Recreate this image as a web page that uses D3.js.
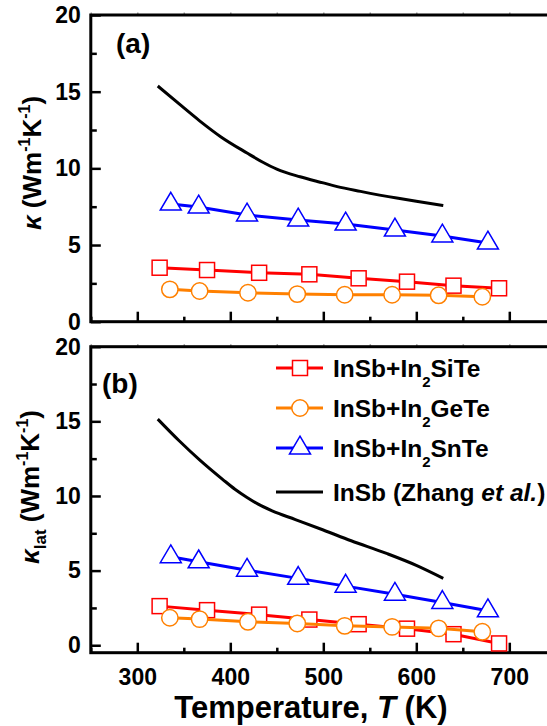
<!DOCTYPE html>
<html>
<head>
<meta charset="utf-8">
<script src="https://cdn.jsdelivr.net/npm/d3@7"></script>
<style>
  body { margin: 0; background: #fff; }
  svg { display: block; }
  text { font-family: "Liberation Sans", Arial, Helvetica, sans-serif; font-weight: bold; fill: #000; }
</style>
</head>
<body>
<svg id="chart" width="547" height="726"></svg>
<script>
// Temperatures (K) of the measured samples
const tempSi = [324, 375, 431, 485, 538, 590, 640, 689];
const tempGe = [335, 367, 419, 472, 523, 574, 624, 671];
const tempSn = [336, 366, 418, 473, 524, 577, 628, 677];

// Total thermal conductivity kappa (W m^-1 K^-1)
const kappaSi = [3.52, 3.37, 3.19, 3.09, 2.83, 2.61, 2.35, 2.18];
const kappaGe = [2.11, 2.00, 1.89, 1.80, 1.76, 1.76, 1.72, 1.63];
const kappaSn = [7.67, 7.48, 6.96, 6.63, 6.37, 5.98, 5.59, 5.13];

// Lattice thermal conductivity kappa_lat (W m^-1 K^-1)
const latticeSi = [2.62, 2.35, 2.05, 1.72, 1.41, 1.11, 0.74, 0.12];
const latticeGe = [1.84, 1.75, 1.57, 1.46, 1.30, 1.23, 1.13, 0.90];
const latticeSn = [5.93, 5.59, 5.03, 4.48, 3.96, 3.42, 2.87, 2.31];

// Pristine InSb reference curves (Zhang et al.)
const refTempTotal = [322, 345, 367, 390, 418, 435, 450, 475, 500, 515, 540, 579, 600, 629];
const refKappaTotal = [15.37, 14.2, 13.1, 12.05, 11.0, 10.4, 9.95, 9.45, 9.05, 8.81, 8.5, 8.06, 7.85, 7.58];
const refTempLattice = [322, 345, 367, 392, 405, 418, 430, 445, 470, 500, 530, 568, 600, 629];
const refKappaLattice = [15.15, 13.7, 12.42, 11.1, 10.45, 9.9, 9.45, 9.0, 8.42, 7.72, 7.0, 6.15, 5.35, 4.48];

// Axis ticks
const xMajorTicks = [300, 400, 500, 600, 700];
const xMinorTicks = [250, 350, 450, 550, 650, 750];
const yMajorTicks = [0, 5, 10, 15, 20];
const yMinorTicks = [2.5, 7.5, 12.5, 17.5];

const seriesNames = ["SiTe", "GeTe", "SnTe"];
const seriesColors = ["#ff0000", "#ff8000", "#0000ff"];
const seriesShapes = ["square", "circle", "triangle"];

const svg = d3.select("#chart");

const x = d3.scaleLinear().domain([250, 750]).range([90.8, 555.8]);

const panels = [
  {
    y: d3.scaleLinear().domain([0, 20]).range([321.7, 15]),
    temps: [tempSi, tempGe, tempSn],
    values: [kappaSi, kappaGe, kappaSn],
    refT: refTempTotal, refK: refKappaTotal,
    tag: "(a)", tagX: 116, tagY: 53,
    showXLabels: false
  },
  {
    y: d3.scaleLinear().domain([-0.5, 20]).range([652.7, 346.7]),
    temps: [tempSi, tempGe, tempSn],
    values: [latticeSi, latticeGe, latticeSn],
    refT: refTempLattice, refK: refKappaLattice,
    tag: "(b)", tagX: 102, tagY: 393,
    showXLabels: true
  }
];

function drawMarker(g, shape, color, cx, cy) {
  if (shape === "square") {
    g.append("rect").attr("x", cx - 7.5).attr("y", cy - 7.5)
      .attr("width", 15).attr("height", 15)
      .attr("fill", "#fff").attr("stroke", color).attr("stroke-width", 1.5);
  } else if (shape === "circle") {
    g.append("circle").attr("cx", cx).attr("cy", cy).attr("r", 8.2)
      .attr("fill", "#fff").attr("stroke", color).attr("stroke-width", 1.5);
  } else {
    const w = 10.5, hTop = 11.8, hBot = 6;
    g.append("path")
      .attr("d", `M${cx},${cy - hTop}L${cx + w},${cy + hBot}L${cx - w},${cy + hBot}Z`)
      .attr("fill", "#fff").attr("stroke", color).attr("stroke-width", 1.5);
  }
}

panels.forEach(p => {
  const y = p.y;
  const [y0, y1] = y.range();
  const g = svg.append("g");

  // Inward ticks on the left axis
  g.append("g").attr("transform", `translate(${x.range()[0]},0)`)
    .call(d3.axisLeft(y).tickValues(yMajorTicks).tickSize(-10).tickPadding(10).tickFormat(d3.format("d")))
    .call(a => a.select(".domain").remove())
    .call(a => a.selectAll("line").attr("stroke-width", 2.5))
    .call(a => a.selectAll("text").attr("font-size", 23).attr("font-family", null));
  g.append("g").attr("transform", `translate(${x.range()[0]},0)`)
    .call(d3.axisLeft(y).tickValues(yMinorTicks).tickSize(-6).tickFormat(""))
    .call(a => a.select(".domain").remove())
    .call(a => a.selectAll("line").attr("stroke-width", 2.5));

  // Inward ticks on the bottom axis
  const xAxis = d3.axisBottom(x).tickValues(xMajorTicks).tickSize(-10).tickPadding(16)
    .tickFormat(p.showXLabels ? d3.format("d") : "");
  g.append("g").attr("transform", `translate(0,${y0})`)
    .call(xAxis)
    .call(a => a.select(".domain").remove())
    .call(a => a.selectAll("line").attr("stroke-width", 2.5))
    .call(a => a.selectAll("text").attr("font-size", 23).attr("font-family", null));
  g.append("g").attr("transform", `translate(0,${y0})`)
    .call(d3.axisBottom(x).tickValues(xMinorTicks).tickSize(-5).tickFormat(""))
    .call(a => a.select(".domain").remove())
    .call(a => a.selectAll("line").attr("stroke-width", 2.5));

  // Faint ticks along the top edge
  g.append("g").attr("transform", `translate(0,${y1})`)
    .call(d3.axisTop(x).tickValues(xMajorTicks.concat(xMinorTicks)).tickSize(2.5).tickFormat(""))
    .call(a => a.select(".domain").remove())
    .call(a => a.selectAll("line").attr("stroke", "#999").attr("stroke-width", 1.5));

  // Panel frame
  g.append("rect")
    .attr("x", x.range()[0]).attr("y", y1)
    .attr("width", x.range()[1] - x.range()[0]).attr("height", y0 - y1)
    .attr("fill", "none").attr("stroke", "#000").attr("stroke-width", 3);

  // Series: line then markers
  const line = d3.line().x(d => x(d[0])).y(d => y(d[1]));
  p.values.forEach((vals, i) => {
    const pts = p.temps[i].map((t, j) => [t, vals[j]]);
    g.append("path").datum(pts).attr("d", line)
      .attr("fill", "none").attr("stroke", seriesColors[i]).attr("stroke-width", 3);
    const mg = g.append("g");
    pts.forEach(d => drawMarker(mg, seriesShapes[i], seriesColors[i], x(d[0]), y(d[1])));
  });

  // Reference curve
  const refPts = p.refT.map((t, j) => [t, p.refK[j]]);
  g.append("path").datum(refPts)
    .attr("d", d3.line().curve(d3.curveMonotoneX).x(d => x(d[0])).y(d => y(d[1])))
    .attr("fill", "none").attr("stroke", "#000").attr("stroke-width", 3);

  g.append("text").attr("x", p.tagX).attr("y", p.tagY)
    .attr("font-size", 28).text(p.tag);
});

// Y-axis titles
function yTitle(cx, cy, withSub) {
  const t = svg.append("text")
    .attr("transform", `translate(${cx},${cy}) rotate(-90)`)
    .attr("text-anchor", "middle").attr("font-size", 26);
  t.append("tspan").attr("font-style", "italic").text("κ");
  let shift = 0;
  if (withSub) {
    t.append("tspan").attr("font-size", 17).attr("dy", 7).text("lat");
    shift = 7;
  }
  t.append("tspan").attr("dy", -shift).text(" (Wm");
  t.append("tspan").attr("font-size", 16).attr("dy", -11).text("-1");
  t.append("tspan").attr("dy", 11).text("K");
  t.append("tspan").attr("font-size", 16).attr("dy", -11).text("-1");
  t.append("tspan").attr("dy", 11).text(")");
}
yTitle(41, 163, false);
yTitle(39, 487, true);

// X-axis title
const xt = svg.append("text").attr("x", 311).attr("y", 718)
  .attr("text-anchor", "middle").attr("font-size", 31);
xt.append("tspan").text("Temperature, ");
xt.append("tspan").attr("font-style", "italic").text("T");
xt.append("tspan").text(" (K)");

// Legend
const legendRows = [368, 408, 448, 492];
const legend = svg.append("g");
seriesNames.forEach((name, i) => {
  const ly = legendRows[i];
  legend.append("line").attr("x1", 276).attr("x2", 323).attr("y1", ly).attr("y2", ly)
    .attr("stroke", seriesColors[i]).attr("stroke-width", 3);
  drawMarker(legend, seriesShapes[i], seriesColors[i], 300, ly);
  const t = legend.append("text").attr("x", 333).attr("y", ly + 8.5).attr("font-size", 24.5);
  t.append("tspan").text("InSb+In");
  t.append("tspan").attr("font-size", 15).attr("dy", 10).text("2");
  t.append("tspan").attr("dy", -10).text(name);
});
{
  const ly = legendRows[3];
  legend.append("line").attr("x1", 276).attr("x2", 323).attr("y1", ly).attr("y2", ly)
    .attr("stroke", "#000").attr("stroke-width", 3);
  const t = legend.append("text").attr("x", 333).attr("y", ly + 8.5).attr("font-size", 24.5);
  t.append("tspan").text("InSb (Zhang ");
  t.append("tspan").attr("font-style", "italic").text("et al.");
  t.append("tspan").text(")");
}
</script>
</body>
</html>
